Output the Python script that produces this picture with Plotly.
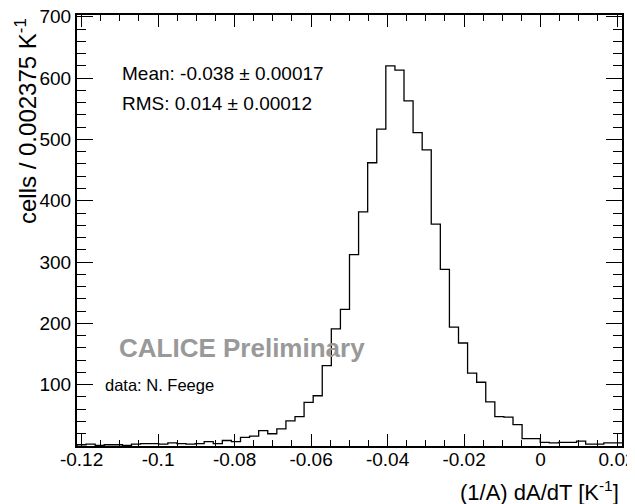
import plotly.graph_objects as go

# Histogram definition
bin_start = -0.1212
bin_width = 0.002375
counts = [2, 3, 1, 2, 2, 1, 3, 4, 4, 3,
          5, 4, 3, 4, 7, 4, 9, 7, 14, 16,
          25, 20, 28, 41, 48, 71, 82, 131, 191, 223,
          312, 382, 462, 517, 620, 613, 563, 511, 483, 362,
          288, 194, 168, 119, 104, 72, 48, 47, 35, 12,
          12, 6, 5, 6, 6, 8, 3, 3, 5, 5]

x_tick_vals = [-0.12, -0.1, -0.08, -0.06, -0.04, -0.02, 0, 0.02]
x_tick_text = ["-0.12", "-0.1", "-0.08", "-0.06", "-0.04", "-0.02", "0", "0.02"]
y_tick_vals = [100, 200, 300, 400, 500, 600, 700]

mean_text = "Mean: -0.038 ± 0.00017"
rms_text = "RMS: 0.014 ± 0.00012"
prelim_text = "CALICE Preliminary"
data_text = "data: N. Feege"
x_title = "(1/A) dA/dT [K<sup>-1</sup>]"
y_title = "cells / 0.002375 K<sup>-1</sup>"

edges = [bin_start + i * bin_width for i in range(len(counts) + 1)]
xs = [edges[0]] + edges
ys = [0] + counts + [counts[-1]]

# page has an 8px body margin; figure is offset accordingly
OFF = 8
W, H = 635 - OFF, 504 - OFF
PL, PR, PT, PB = 77, 622, 15, 446          # plot area in page pixels
L, T = PL - OFF, PT - OFF
R, B = W - (PR - OFF), H - (PB - OFF)
pw, ph = PR - PL, PB - PT

def px(x):
    return (x - PL) / pw

def py(y):
    return (PB - y) / ph

font = "Liberation Sans, Arial, Helvetica, sans-serif"

fig = go.Figure()
fig.add_trace(go.Scatter(x=xs, y=ys, mode="lines", line_shape="hv",
                         line=dict(color="black", width=1.3),
                         hoverinfo="skip", showlegend=False, cliponaxis=True))

fig.update_layout(
    width=W, height=H,
    margin=dict(l=L, r=R, t=T, b=B, autoexpand=False),
    paper_bgcolor="white", plot_bgcolor="white",
    font=dict(family=font, size=19, color="black"),
    showlegend=False,
)
fig.update_xaxes(
    range=[bin_start, bin_start + bin_width * len(counts)],
    tickvals=x_tick_vals, ticktext=x_tick_text,
    ticks="inside", ticklen=12, tickwidth=1, tickcolor="black",
    minor=dict(ticks="inside", ticklen=6, dtick=0.005, tick0=0, tickcolor="black"),
    showline=True, linecolor="black", linewidth=2, mirror="ticks",
    showgrid=False, zeroline=False, automargin=False,
    ticklabeloverflow="allow", ticklabelstandoff=-5,
    tickfont=dict(size=19),
)
fig.update_yaxes(
    range=[0, 703],
    tickvals=y_tick_vals,
    ticks="inside", ticklen=16, tickwidth=1, tickcolor="black",
    minor=dict(ticks="inside", ticklen=9, dtick=20, tick0=0, tickcolor="black"),
    showline=True, linecolor="black", linewidth=2, mirror="ticks",
    showgrid=False, zeroline=False, automargin=False,
    ticklabeloverflow="allow",
    tickfont=dict(size=19),
)

ann = [
    dict(text=mean_text, x=px(120), y=py(73), xanchor="left", yanchor="middle",
         font=dict(size=19)),
    dict(text=rms_text, x=px(120), y=py(103), xanchor="left", yanchor="middle",
         font=dict(size=19)),
    dict(text="<b>" + prelim_text + "</b>", x=px(117), y=py(348), xanchor="left",
         yanchor="middle", font=dict(size=26, color="#999999")),
    dict(text=data_text, x=px(103), y=py(385), xanchor="left", yanchor="middle",
         font=dict(size=16.5)),
    dict(text=x_title, x=px(621), y=py(491), xanchor="right", yanchor="middle",
         font=dict(size=22)),
    dict(text=y_title, x=px(26), y=py(16), xanchor="center", yanchor="top",
         textangle=-90, font=dict(size=24)),
]
for a in ann:
    a.update(xref="paper", yref="paper", showarrow=False)
fig.update_layout(annotations=ann)

fig.write_html("out.html")
